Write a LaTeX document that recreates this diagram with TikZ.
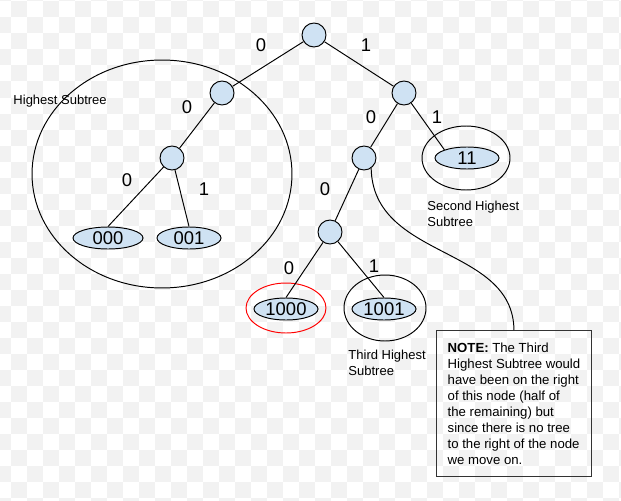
\documentclass[tikz,border=0pt]{standalone}
\usepackage{fontspec}
\setmainfont{Liberation Sans}
\usetikzlibrary{shapes.geometric}
\definecolor{paleBlue}{HTML}{CFE2F3}
\colorlet{checkGray}{black!5}

\begin{document}
\begin{tikzpicture}[x=0.02cm,y=-0.02cm,line width=0.55pt,
    bit/.style={circle,draw,fill=paleBlue,minimum size=0.48cm,inner sep=0pt},
    leaf/.style={ellipse,draw,fill=paleBlue,minimum width=1.28cm,minimum height=0.44cm,inner sep=0pt,font=\fontsize{10.5}{12}\selectfont},
    lbl/.style={inner sep=0pt,font=\fontsize{10.5}{12}\selectfont},
    tag/.style={inner sep=0pt,align=left,font=\fontsize{7.4}{8.6}\selectfont}]
    \useasboundingbox (0,0) rectangle (621,500);
    % background squares
    \begin{scope}
        \clip (0,0) rectangle (621,500);
        \foreach \x in {-21,11,...,621}
            \foreach \y in {-30.5,1.5,...,500} {
                \fill[checkGray] (\x,\y) rectangle +(16,16);
                \fill[checkGray] (\x+16,\y+16) rectangle +(16,16);
            }
    \end{scope}
    % subtree rings
    \draw (162,174) ellipse [x radius=2.6cm, y radius=2.28cm];
    \draw (466,158) ellipse [x radius=0.88cm, y radius=0.64cm];
    \draw[red] (286,308) ellipse [x radius=0.8cm, y radius=0.5cm];
    \draw (385,308) ellipse [x radius=0.82cm, y radius=0.66cm];
    % tree
    \node[bit] (r) at (314,35) {};
    \node[bit] (a) at (222,93) {};
    \node[bit] (aa) at (172,158) {};
    \node[leaf,minimum width=1.4cm] (l000) at (108,238) {000};
    \node[leaf] (l001) at (189,238) {001};
    \node[bit] (b) at (404,93) {};
    \node[bit] (ba) at (364,158) {};
    \node[leaf] (l11) at (467,158) {11};
    \node[bit] (baa) at (330,232) {};
    \node[leaf] (l1000) at (286,309) {1000};
    \node[leaf] (l1001) at (384,309) {1001};
    \draw (r) -- (a);
    \draw (a) -- (aa);
    \draw (aa) -- (l000.north);
    \draw (aa) -- (l001.north);
    \draw (r) -- (b);
    \draw (b) -- (ba);
    \draw (b) -- (l11.160);
    \draw (ba) -- (baa);
    \draw (baa) -- (l1000.north);
    \draw (baa) -- (l1001.north);
    % bit labels
    \node[lbl] (e1) at (261,45) {0};
    \node[lbl] (e2) at (366,45) {1};
    \node[lbl] (e3) at (187,107) {0};
    \node[lbl] (e4) at (127,180) {0};
    \node[lbl] (e5) at (204,189) {1};
    \node[lbl] (e6) at (371,117) {0};
    \node[lbl] (e7) at (437,117) {1};
    \node[lbl] (e8) at (325,189) {0};
    \node[lbl] (e9) at (289,268) {0};
    \node[lbl] (e10) at (374,266) {1};
    % subtree names
    \node[tag,anchor=west] (hs) at (13,101) {Highest Subtree};
    \node[tag,anchor=north west] (shs) at (427,201) {Second Highest\\Subtree};
    \node[tag,anchor=north west] (ths) at (348,350) {Third Highest\\Subtree};
    % note
    \node[draw=black!80,anchor=north west,minimum width=3.1cm,minimum height=2.92cm,
        align=left,font=\fontsize{7.5}{9.1}\selectfont] (note) at (436,330)
        {\textbf{NOTE:} The Third\\Highest Subtree would\\have been on the right\\of this node (half of\\the remaining) but\\since there is no tree\\to the right of the node\\we move on.};
    \draw (ba.-55) .. controls (373,260) and (513,245) .. (note.north);
\end{tikzpicture}
\end{document}
